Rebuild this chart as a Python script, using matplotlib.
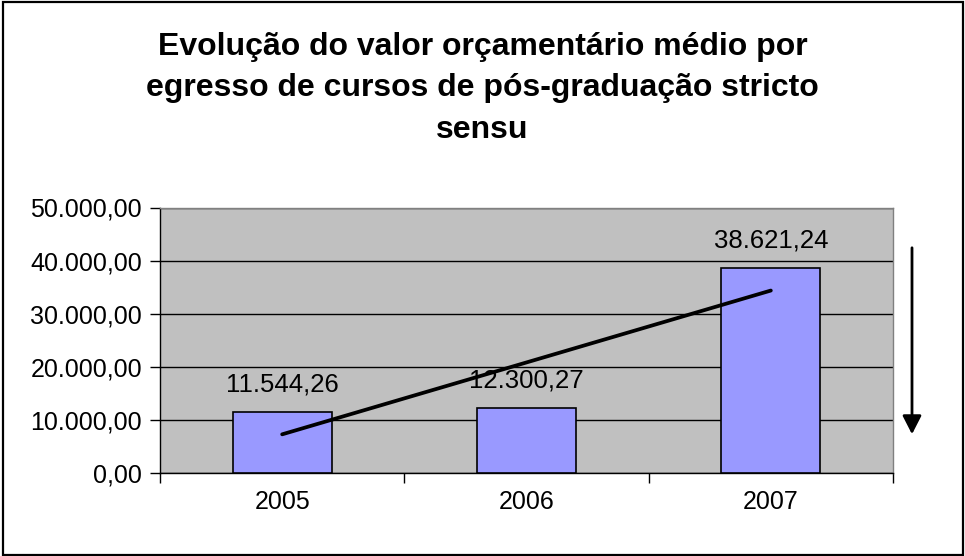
import numpy as np
import matplotlib
matplotlib.use("Agg")
import matplotlib.pyplot as plt
from matplotlib.patches import Rectangle, FancyArrowPatch

plt.rcParams['font.family'] = ['Liberation Sans', 'DejaVu Sans']

years = ["2005", "2006", "2007"]
values = [11544.26, 12300.27, 38621.24]
y_ticks = [0, 10000, 20000, 30000, 40000, 50000]
title = "Evolução do valor orçamentário médio por\negresso de cursos de pós-graduação stricto\nsensu"


def br_number(v):
    s = f"{v:,.2f}"
    return s.replace(",", "X").replace(".", ",").replace("X", ".")


fig = plt.figure(figsize=(9.65, 5.56), dpi=100)
fig.patch.set_facecolor("white")

# outer chart border
fig.add_artist(Rectangle((3 / 965, 1 - 555 / 556), 960 / 965, 553 / 556,
                         transform=fig.transFigure, fill=False,
                         edgecolor="#000000", linewidth=1.6))

ax = fig.add_axes([160 / 965, 1 - 473 / 556, 733 / 965, 265.5 / 556])
ax.set_facecolor("#C0C0C0")

x = np.arange(len(years))
ax.bar(x, values, width=0.405, color="#9999FF", edgecolor="black",
       linewidth=1.2, zorder=3)

for xi, v in zip(x, values):
    ax.annotate(br_number(v), (xi, v), xytext=(0, 11), textcoords="offset points",
                ha="center", va="bottom", fontsize=18.5, color="black", zorder=5)

# linear trend
coef = np.polyfit(x, values, 1)
ax.plot(x[[0, -1]], np.polyval(coef, x[[0, -1]]), color="black",
        linewidth=2.7, solid_capstyle="round", zorder=4)

ax.set_xlim(-0.5, len(years) - 0.5)
ax.set_ylim(0, 50000)
ax.set_yticks(y_ticks)
ax.set_yticklabels([br_number(t) for t in y_ticks], fontsize=18)
ax.set_xticks(x)
ax.set_xticklabels(years, fontsize=18)
ax.set_xticks(np.arange(-0.5, len(years), 1.0), minor=True)
ax.tick_params(axis="x", which="major", length=0, pad=12)
ax.tick_params(axis="x", which="minor", length=7, width=1, direction="out")
ax.tick_params(axis="y", length=7, width=1, direction="out", pad=6)

ax.yaxis.grid(True, color="black", linewidth=1.0, zorder=1)
ax.set_axisbelow(True)

for side in ("left", "bottom"):
    ax.spines[side].set_color("black")
    ax.spines[side].set_linewidth(1.0)
for side in ("top", "right"):
    ax.spines[side].set_color("#808080")
    ax.spines[side].set_linewidth(1.0)

fig.text(0.5, 1 - 88 / 556, title, ha="center", va="center", fontsize=23,
         fontweight="bold", linespacing=1.5)

# downward arrow beside the plot area
fig.add_artist(FancyArrowPatch(
    (912 / 965, 1 - 245 / 556), (912 / 965, 1 - 437 / 556),
    transform=fig.transFigure, arrowstyle="-|>,head_length=4.3,head_width=2.2",
    color="black", linewidth=2.0, mutation_scale=2.6))

fig.savefig("out.png", dpi=100)
